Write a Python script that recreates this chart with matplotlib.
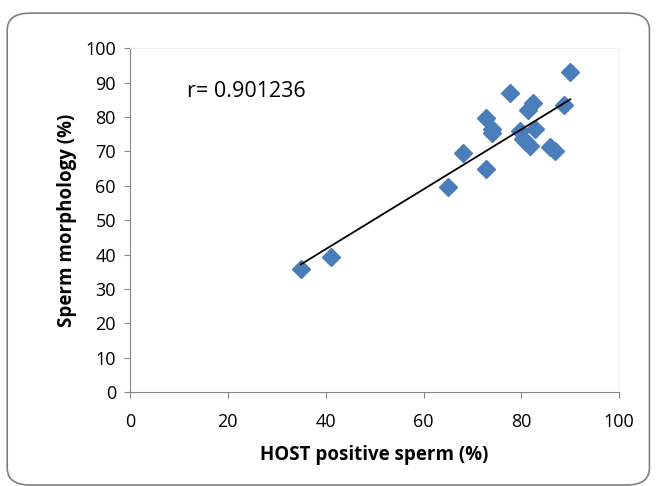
import numpy as np
import matplotlib.pyplot as plt
from matplotlib.patches import FancyBboxPatch

# HOST positive sperm (%) vs Sperm morphology (%)
host = [90.0, 77.7, 82.4, 81.4, 88.8, 72.8, 74.0, 74.0, 79.8, 82.8,
        80.4, 81.8, 81.0, 85.9, 86.9, 68.0, 72.8, 65.0, 34.9, 41.0]
morph = [93.1, 87.1, 84.0, 82.0, 83.4, 79.7, 76.6, 75.2, 75.9, 76.5,
         73.7, 71.6, 72.6, 71.3, 70.2, 69.6, 64.8, 59.7, 35.8, 39.3]
r_text = "r= 0.901236"

plt.rcParams['font.family'] = ['Open Sans', 'DejaVu Sans']

fig = plt.figure(figsize=(6.56, 4.86), dpi=100)
ax = fig.add_axes([0.198, 0.193, 0.746, 0.708])

# rounded outer frame
frame = FancyBboxPatch((0.011, 0.002), 0.979, 0.971,
                       boxstyle="round,pad=0,rounding_size=0.035",
                       transform=fig.transFigure, facecolor='none',
                       edgecolor='#7f7f7f', linewidth=1.2)
fig.patches.append(frame)

ax.plot(host, morph, 'D', color='#4a7ebb', markersize=9, zorder=3)

# linear trend line
k, b = np.polyfit(host, morph, 1)
xs = np.array([min(host), max(host)])
ax.plot(xs, k * xs + b, color='black', linewidth=1.3, zorder=4)

ax.text(11.7, 87.5, r_text, fontsize=15.5, va='center')

ax.set_xlim(0, 100)
ax.set_ylim(0, 100)
ax.set_xticks(range(0, 101, 20))
ax.set_yticks(range(0, 101, 10))
ax.tick_params(labelsize=13, color='#868686', length=4)
ax.tick_params(axis='x', pad=11)
ax.tick_params(axis='y', pad=6)
for s in ['left', 'bottom']:
    ax.spines[s].set_color('#868686')
for s in ['top', 'right']:
    ax.spines[s].set_color('#f0f0f0')

ax.set_xlabel('HOST positive sperm (%)', fontsize=13.5, fontweight='bold', labelpad=10)
ax.set_ylabel('Sperm morphology (%)', fontsize=13.5, fontweight='bold', labelpad=6)

fig.savefig('out.png', dpi=100)
